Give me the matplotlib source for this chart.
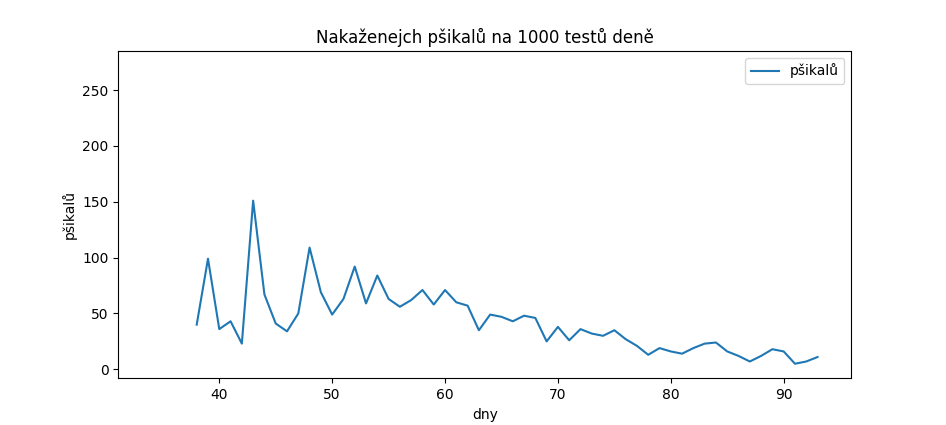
import matplotlib
matplotlib.use('Agg')
import matplotlib.pyplot as plt

# dny a hodnoty
dny = list(range(38, 94))
psikalu = [40, 99, 36, 43, 23, 151, 67, 41, 34, 50,
           109, 69, 49, 63, 92, 59, 84, 63, 56, 62,
           71, 58, 71, 60, 57, 35, 49, 47, 43, 48,
           46, 25, 38, 26, 36, 32, 30, 35, 27, 21,
           13, 19, 16, 14, 19, 23, 24, 16, 12, 7,
           12, 18, 16, 5, 7, 11]

fig, ax = plt.subplots(figsize=(9.46, 4.25), dpi=100)
ax.plot(dny, psikalu, label='pšikalů')
ax.set_title('Nakaženejch pšikalů na 1000 testů deně')
ax.set_xlabel('dny')
ax.set_ylabel('pšikalů')
ax.set_xlim(31.05, 96.0)
ax.set_ylim(-8, 285)
ax.legend(loc='upper right')

plt.savefig('out.png', dpi=100)
